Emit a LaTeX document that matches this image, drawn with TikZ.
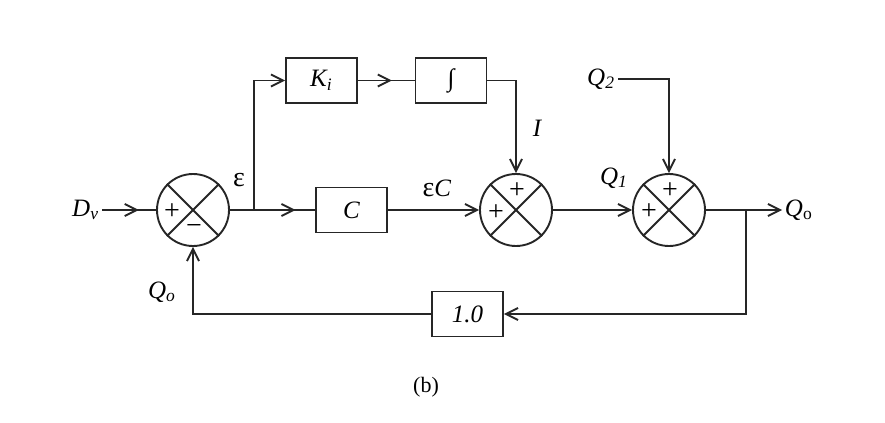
\documentclass[tikz,border=0pt]{standalone}
\usepackage{fontspec}
\setmainfont{Liberation Serif}
\usepackage{tikz}
\usetikzlibrary{arrows.meta,decorations.markings}

\begin{document}
\begin{tikzpicture}[x=0.5pt, y=-0.5pt,
  font=\fontsize{12.5}{14}\selectfont,
  line width=0.95pt, draw=black!85,
  sumj/.style={draw, circle, minimum size=36pt, inner sep=0pt},
  blk/.style={draw, minimum width=35.5pt, minimum height=22.5pt,
              inner sep=0pt, font=\fontsize{12.5}{14}\selectfont\itshape},
  arr/.style={-{Straight Barb[length=6pt, width=6pt]}},
  midarr/.style={postaction={decorate, decoration={markings,
      mark=at position #1 with {\arrow{Straight Barb[length=6pt, width=6pt]}}}}},
  lab/.style={font=\fontsize{12.5}{14}\selectfont\itshape, inner sep=1pt},
  sgn/.style={inner sep=0pt, font=\fontsize{14}{16}\selectfont}]
\useasboundingbox (0,0) rectangle (885,423);
% summing junctions
\node[sumj] (s1) at (193,210) {};
\node[sumj] (s2) at (516,210) {};
\node[sumj] (s3) at (669,210) {};
\foreach \s in {s1,s2,s3}
  \draw (\s.north west) -- (\s.south east) (\s.north east) -- (\s.south west);
\node[sgn] (s1p) at (172,212) {+};
\node[sgn] (s1m) at (194,230) {−};
\node[sgn] (s2t) at (517,191) {+};
\node[sgn] (s2l) at (496,213) {+};
\node[sgn] (s3t) at (670,191) {+};
\node[sgn] (s3l) at (649,212) {+};
% blocks
\node[blk] (ki) at (321.5,80.5) {K\textsubscript{i}};
\node[blk, font=\fontsize{12.5}{14}\selectfont] (int) at (451,80.5) {∫};
\node[blk] (c) at (351.5,210) {C};
\node[blk] (one) at (467.5,314) {1.0};
% inputs, outputs and labels
\node[lab, anchor=east] (dv) at (102,210) {D\textsubscript{v}};
\node[lab, anchor=east] (q2) at (618,79) {Q\textsubscript{2}};
\node[lab, anchor=west] (qout) at (782,210) {Q\textsubscript{\upshape o}};
\node[font=\fontsize{14}{16}\selectfont] (eps) at (239,180) {ε};
\node (epsc) at (437,188) {{\fontsize{14}{16}\selectfont ε}\textit{C}};
\node[lab] (ilab) at (537,128) {I};
\node[lab] (q1) at (614,178) {Q\textsubscript{1}};
\node[lab] (qfb) at (162,292) {Q\textsubscript{o}};
\node[font=\fontsize{11}{13}\selectfont] (cap) at (426,387) {(b)};
\coordinate (br1) at (254,210);
\coordinate (br2) at (746,210);
% connectors
\draw[midarr=0.68] (dv) -- (s1);
\draw (s1) -- (br1);
\draw[midarr=0.68] (br1) -- (c);
\draw[arr] (br1) |- (ki);
\draw[midarr=0.6] (ki) -- (int);
\draw[arr] (int) -| (s2);
\draw[arr] (c) -- (s2);
\draw[arr] (s2) -- (s3);
\draw[arr] (q2) -| (s3);
\draw[arr] (s3) -- (qout);
\draw[arr] (br2) |- (one);
\draw[arr] (one) -| (s1);
\end{tikzpicture}
\end{document}
